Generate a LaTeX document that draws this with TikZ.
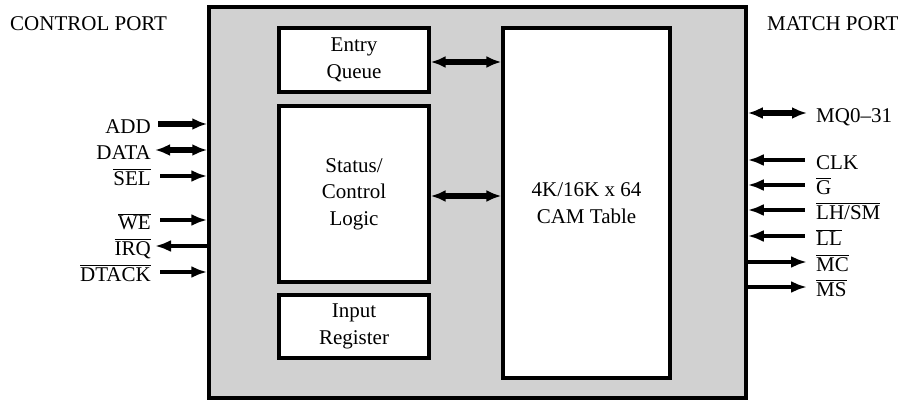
\documentclass[tikz,border=0pt]{standalone}
\usepackage{fontspec}
\setmainfont{Liberation Serif}
\usetikzlibrary{arrows.meta}
\newcommand{\ovl}[1]{$\overline{\mbox{#1}}$}
\begin{document}
\begin{tikzpicture}[x=1pt,y=-1pt,
  txt/.style={font=\fontsize{21}{26.5}\selectfont, inner sep=0pt},
  blk/.style={draw, line width=3.2pt, fill=white, font=\fontsize{21}{26.5}\selectfont, align=center, inner sep=0pt},
  thinarr/.style={line width=3.2pt, -{Latex[length=16pt,width=12pt]}},
  thinarrb/.style={line width=3.2pt, {Latex[length=16pt,width=12pt]}-},
  thickarr/.style={line width=6pt, -{Latex[length=15pt,width=12pt]}},
  dblarr/.style={line width=6pt, {Latex[length=15pt,width=12pt]}-{Latex[length=15pt,width=12pt]}}
]
\useasboundingbox (0,0) rectangle (901,401);
\fill[white] (0,0) rectangle (901,401);

\node[draw, line width=3.5pt, fill=black!18, minimum width=537pt, minimum height=391pt, inner sep=0pt] (outer) at (477.5,202.5) {};

\node[blk, minimum width=150pt, minimum height=64pt] (eq) at (354,60) {Entry\\Queue};
\node[blk, minimum width=150pt, minimum height=176pt] (sc) at (354,194) {Status/\\Control\\Logic};
\node[blk, minimum width=150pt, minimum height=63pt] (ir) at (354,326.5) {Input\\Register};
\node[blk, minimum width=167pt, minimum height=350pt] (cam) at (586.5,203) {4K/16K x 64\\CAM Table};

\draw[dblarr] (eq.east |- 0,62) -- (cam.west |- 0,62);
\draw[dblarr] (sc.east |- 0,196) -- (cam.west |- 0,196);

\node[txt, anchor=base west] (cp) at (10,31) {CONTROL PORT};
\node[txt, anchor=base west] (mp) at (767,31) {MATCH PORT};

% left labels
\node[txt, anchor=base east] (add) at (151,133) {ADD};
\node[txt, anchor=base east] (data) at (151,159) {DATA};
\node[txt, anchor=base east] (sel) at (151,185) {\ovl{SEL}};
\node[txt, anchor=base east] (we) at (151,229) {\ovl{WE}};
\node[txt, anchor=base east] (irq) at (151,255) {\ovl{IRQ}};
\node[txt, anchor=base east] (dtack) at (151,281) {\ovl{DTACK}};

\coordinate (c1) at (158,124);
\coordinate (c2) at (155,150);
\coordinate (c3) at (160,176);
\coordinate (c4) at (160,220);
\coordinate (c5) at (155,246);
\coordinate (c6) at (160,272);
\draw[thickarr] (c1) -- (c1 -| outer.west);
\draw[dblarr] (c2) -- (c2 -| outer.west);
\draw[thinarr] (c3) -- (c3 -| outer.west);
\draw[thinarr] (c4) -- (c4 -| outer.west);
\draw[thinarrb] (c5) -- (c5 -| outer.west);
\draw[thinarr] (c6) -- (c6 -| outer.west);

% right labels
\node[txt, anchor=base west] (mq) at (816,122) {MQ0--31};
\node[txt, anchor=base west] (clk) at (816,169) {CLK};
\node[txt, anchor=base west] (g) at (816,194) {\ovl{G}};
\node[txt, anchor=base west] (lh) at (816,219) {\ovl{LH/SM}};
\node[txt, anchor=base west] (ll) at (816,245) {\ovl{LL}};
\node[txt, anchor=base west] (mc) at (816,271) {\ovl{MC}};
\node[txt, anchor=base west] (ms) at (816,296) {\ovl{MS}};

\coordinate (d1) at (807,113);
\coordinate (d2) at (805,160);
\coordinate (d3) at (805,185);
\coordinate (d4) at (805,210);
\coordinate (d5) at (805,236);
\coordinate (d6) at (807,262);
\coordinate (d7) at (807,287);
\draw[dblarr] (d1 -| outer.east) -- (d1);
\draw[thinarrb] (d2 -| outer.east) -- (d2);
\draw[thinarrb] (d3 -| outer.east) -- (d3);
\draw[thinarrb] (d4 -| outer.east) -- (d4);
\draw[thinarrb] (d5 -| outer.east) -- (d5);
\draw[thinarr] (d6 -| outer.east) -- (d6);
\draw[thinarr] (d7 -| outer.east) -- (d7);
\end{tikzpicture}
\end{document}
